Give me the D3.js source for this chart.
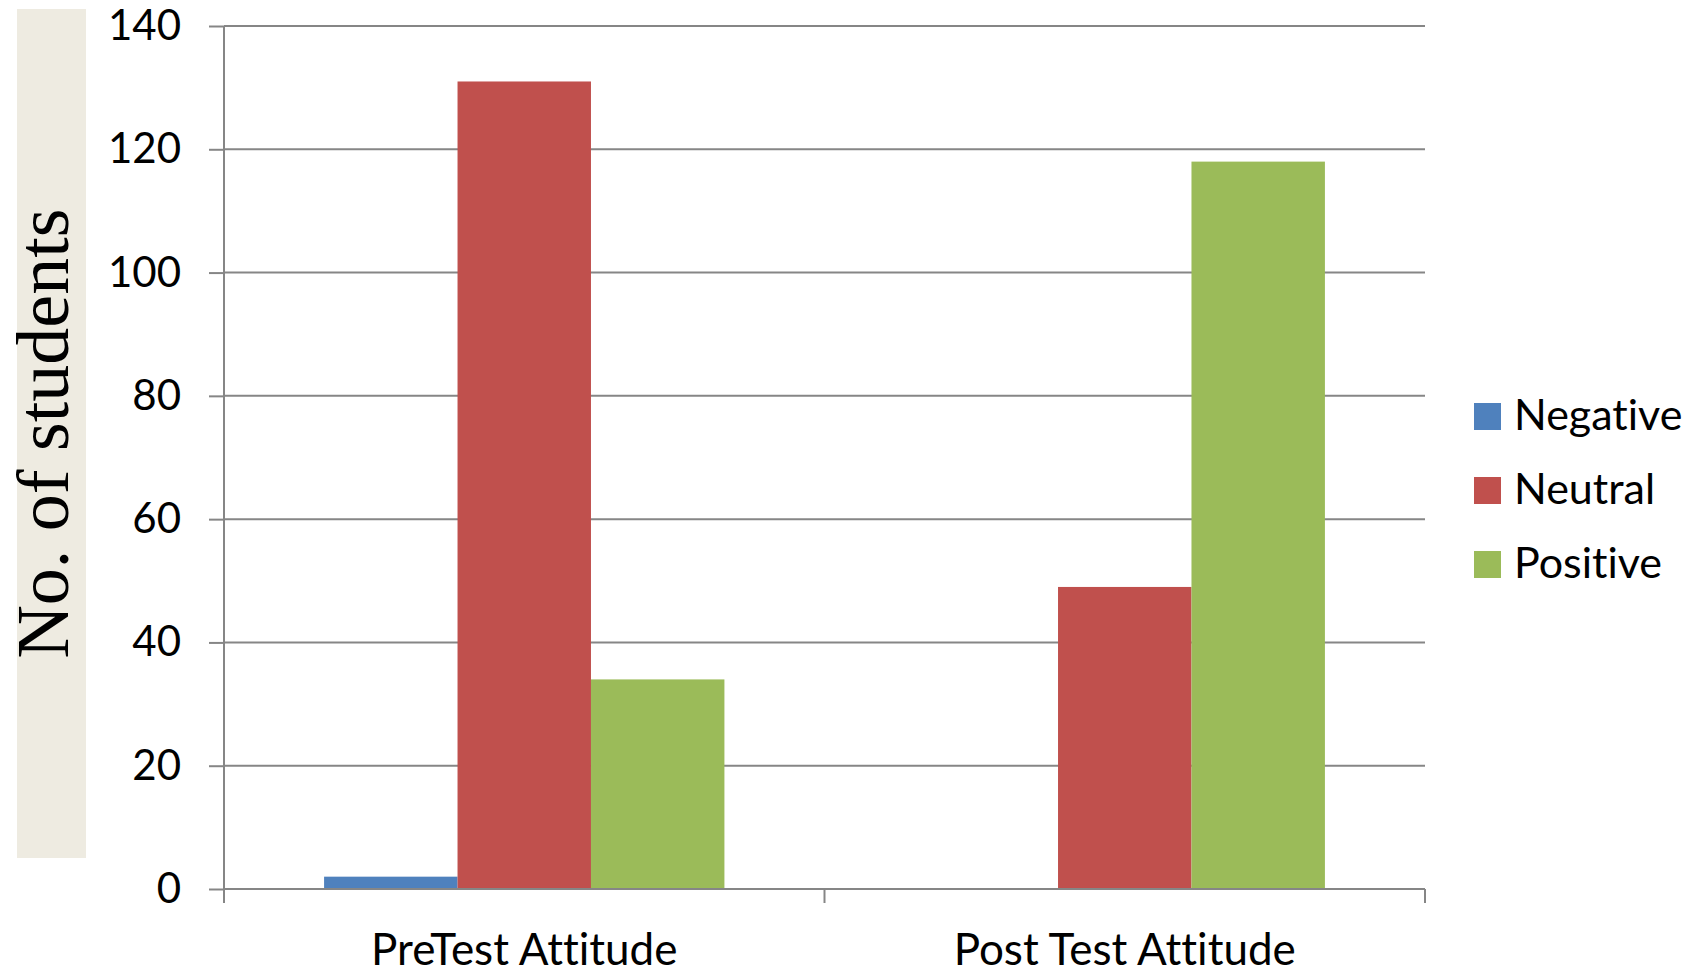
<!DOCTYPE html>
<html>
<head>
<meta charset="utf-8">
<script src="https://d3js.org/d3.v7.min.js"></script>
<style>
  body { margin: 0; background: #fff; }
  text { font-family: Lato, "Open Sans", sans-serif; fill: #000; font-variant-ligatures: none; }
</style>
</head>
<body>
<div id="chart"></div>
<script>
// Data
const categories = ["PreTest Attitude", "Post Test Attitude"];
const series = ["Negative", "Neutral", "Positive"];
const negative = [2, 0];
const neutral = [131, 49];
const positive = [34, 118];
const yTicks = [0, 20, 40, 60, 80, 100, 120, 140];
const colors = ["#4F81BD", "#C0504D", "#9BBB59"];
const yTitle = "No. of students";

const W = 1698, H = 974;
const plot = {left: 224, right: 1425, top: 26, bottom: 889};
const gridColor = "#868686";

const svg = d3.select("#chart").append("svg")
  .attr("width", W)
  .attr("height", H);

const values = [negative, neutral, positive];
const rows = categories.map((c, i) => ({
  category: c,
  vals: series.map((s, j) => ({key: s, value: values[j][i], color: colors[j]}))
}));

// Scales
const y = d3.scaleLinear().domain([0, 140]).range([plot.bottom, plot.top]);
const x0 = d3.scaleBand().domain(categories).range([plot.left, plot.right]);
const x1 = d3.scaleBand().domain(series).range([0, x0.bandwidth()])
  .paddingInner(0).paddingOuter(0.75);

// Y title box
svg.append("rect")
  .attr("x", 17).attr("y", 9)
  .attr("width", 69).attr("height", 849)
  .attr("fill", "#EEEBE1");

svg.append("text")
  .attr("transform", `translate(68, ${(9 + 858) / 2}) rotate(-90)`)
  .attr("text-anchor", "middle")
  .style("font-family", "'Liberation Serif', 'DejaVu Serif', serif")
  .style("font-size", "74px")
  .text(yTitle);

// Gridlines + left axis
const yAxis = svg.append("g")
  .attr("transform", `translate(${plot.left},0)`)
  .call(d3.axisLeft(y).tickValues(yTicks).tickSize(15).tickPadding(28));
yAxis.select(".domain").attr("stroke", gridColor).attr("stroke-width", 2)
  .attr("d", `M0,${plot.top}V${plot.bottom}`);
yAxis.selectAll(".tick line").attr("stroke", gridColor).attr("stroke-width", 2);
yAxis.selectAll(".tick text")
  .style("font-size", "42px")
  .attr("fill", "#000");

svg.append("g")
  .selectAll("line")
  .data(yTicks.filter((d) => d > 0))
  .join("line")
  .attr("x1", plot.left).attr("x2", plot.right)
  .attr("y1", (d) => y(d)).attr("y2", (d) => y(d))
  .attr("stroke", gridColor).attr("stroke-width", 2);

// Bars
svg.append("g")
  .selectAll("g")
  .data(rows)
  .join("g")
  .attr("transform", (d) => `translate(${x0(d.category)},0)`)
  .selectAll("rect")
  .data((d) => d.vals)
  .join("rect")
  .attr("x", (d) => x1(d.key))
  .attr("y", (d) => y(d.value))
  .attr("width", x1.bandwidth())
  .attr("height", (d) => y(0) - y(d.value))
  .attr("fill", (d) => d.color);

// Bottom axis
const xAxis = svg.append("g")
  .attr("transform", `translate(0,${plot.bottom})`);
xAxis.append("line")
  .attr("x1", plot.left).attr("x2", plot.right)
  .attr("stroke", gridColor).attr("stroke-width", 2);
xAxis.selectAll(".sep")
  .data([plot.left, x0(categories[1]), plot.right])
  .join("line")
  .attr("class", "sep")
  .attr("x1", (d) => d).attr("x2", (d) => d)
  .attr("y1", 0).attr("y2", 14)
  .attr("stroke", gridColor).attr("stroke-width", 2);
xAxis.selectAll(".cat")
  .data(categories)
  .join("text")
  .attr("class", "cat")
  .attr("x", (d) => x0(d) + x0.bandwidth() / 2)
  .attr("y", 76)
  .attr("text-anchor", "middle")
  .style("font-size", "44px")
  .text((d) => d);

// Legend
const legend = svg.append("g").attr("transform", "translate(1474, 403)");
const item = legend.selectAll("g")
  .data(series)
  .join("g")
  .attr("transform", (d, i) => `translate(0, ${i * 74})`);
item.append("rect")
  .attr("width", 27).attr("height", 27)
  .attr("fill", (d, i) => colors[i]);
item.append("text")
  .attr("x", 40)
  .attr("y", 27)
  .style("font-size", "43px")
  .text((d) => d);
</script>
</body>
</html>
